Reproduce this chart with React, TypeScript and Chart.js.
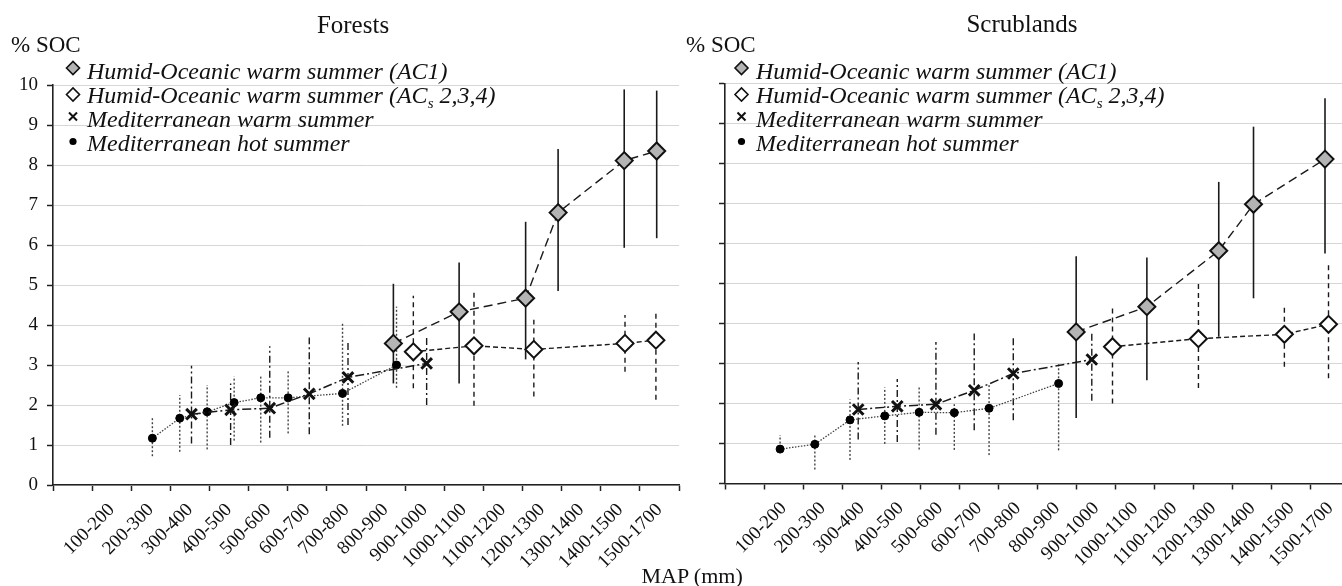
import React, { useEffect, useRef } from "react";
import { Chart, registerables } from "chart.js";

Chart.register(...registerables);

const FONT = '"Liberation Serif", "Times New Roman", serif';

// ---- x axis (MAP classes, mm) ----
const mapClassLabels = [
  "100-200", "200-300", "300-400", "400-500", "500-600", "600-700", "700-800",
  "800-900", "900-1000", "1000-1100", "1100-1200", "1200-1300", "1300-1400",
  "1400-1500", "1500-1700",
];
const mapMin = 0;
const mapMax = 1600;
const mapStep = 100;
const socTicks = [0, 1, 2, 3, 4, 5, 6, 7, 8, 9, 10];

// ---- Forests ----
const forAC1Map = [870, 1038, 1208, 1291, 1460, 1543];
const forAC1Soc = [3.54, 4.33, 4.67, 6.81, 8.11, 8.35];
const forAC1Low = [2.54, 2.54, 3.14, 4.85, 5.93, 6.17];
const forAC1High = [5.03, 5.56, 6.58, 8.4, 9.89, 9.86];

const forACsMap = [921, 1076, 1229, 1462, 1541];
const forACsSoc = [3.33, 3.48, 3.39, 3.54, 3.62];
const forACsLow = [2.42, 1.98, 2.21, 2.83, 2.13];
const forACsHigh = [4.73, 4.88, 4.13, 4.25, 4.33];

const forWarmMap = [354, 454, 554, 655, 754, 955];
const forWarmSoc = [1.77, 1.88, 1.92, 2.28, 2.69, 3.04];
const forWarmLow = [1.04, 1.0, 1.18, 1.27, 1.5, 2.0];
const forWarmHigh = [2.98, 2.54, 3.47, 3.69, 3.58, 3.75];

const forHotMap = [254, 324, 394, 463, 531, 601, 740, 878];
const forHotSoc = [1.17, 1.67, 1.83, 2.06, 2.18, 2.18, 2.29, 3.0];
const forHotLow = [0.72, 0.83, 0.89, 1.11, 1.06, 1.29, 1.48, 2.43];
const forHotHigh = [1.67, 2.25, 2.5, 2.72, 2.72, 2.89, 4.08, 4.46];

// ---- Scrublands ----
const scrAC1Map = [899, 1080, 1264, 1353, 1536];
const scrAC1Soc = [3.79, 4.42, 5.82, 6.98, 8.11];
const scrAC1Low = [1.64, 2.58, 3.67, 4.63, 5.75];
const scrAC1High = [5.68, 5.65, 7.54, 8.92, 9.63];

const scrACsMap = [992, 1212, 1432, 1545];
const scrACsSoc = [3.42, 3.62, 3.73, 3.98];
const scrACsLow = [2.0, 2.39, 2.92, 2.63];
const scrACsHigh = [4.43, 5.07, 4.43, 5.54];

const scrWarmMap = [341, 441, 540, 638, 738, 939];
const scrWarmSoc = [1.85, 1.93, 1.98, 2.33, 2.75, 3.1];
const scrWarmLow = [1.1, 1.04, 1.22, 1.33, 1.58, 2.07];
const scrWarmHigh = [3.04, 2.61, 3.54, 3.75, 3.65, 3.82];

const scrHotMap = [141, 230, 320, 409, 497, 587, 676, 854];
const scrHotSoc = [0.86, 0.98, 1.59, 1.69, 1.78, 1.77, 1.88, 2.5];
const scrHotLow = [0.8, 0.35, 0.59, 0.99, 0.85, 0.84, 0.71, 0.83];
const scrHotHigh = [1.21, 1.22, 2.1, 2.4, 2.42, 1.98, 2.48, 2.98];

const toPoints = (xs: number[], ys: number[]) => xs.map((x, i) => ({ x, y: ys[i] }));

const errorBarPlugin = {
  id: "errorBars",
  beforeDatasetsDraw(chart: any) {
    const { ctx, scales } = chart;
    const xs = scales.x;
    const ys = scales.y;
    chart.data.datasets.forEach((ds: any, i: number) => {
      if (!ds.errLow || !chart.isDatasetVisible(i)) return;
      ctx.save();
      ctx.strokeStyle = ds.errColor;
      ctx.lineWidth = ds.errWidth;
      ctx.setLineDash(ds.errDash);
      ds.data.forEach((p: any, j: number) => {
        const px = xs.getPixelForValue(p.x);
        ctx.beginPath();
        ctx.moveTo(px, ys.getPixelForValue(ds.errLow[j]));
        ctx.lineTo(px, ys.getPixelForValue(ds.errHigh[j]));
        ctx.stroke();
      });
      ctx.restore();
    });
  },
};

type Series = { map: number[]; soc: number[]; low: number[]; high: number[] };

function buildDatasets(ac1: Series, acs: Series, warm: Series, hot: Series) {
  return [
    {
      label: "Humid-Oceanic warm summer (AC1)",
      data: toPoints(ac1.map, ac1.soc),
      errLow: ac1.low, errHigh: ac1.high, errDash: [], errWidth: 1.6, errColor: "#1a1a1a",
      borderColor: "#1a1a1a", borderWidth: 1.4, borderDash: [9, 5],
      pointStyle: "rectRot", pointRadius: 8.5, pointBackgroundColor: "#b4b4b4",
      pointBorderColor: "#111", pointBorderWidth: 2, fill: false, tension: 0,
    },
    {
      label: "Humid-Oceanic warm summer (ACs 2,3,4)",
      data: toPoints(acs.map, acs.soc),
      errLow: acs.low, errHigh: acs.high, errDash: [5, 4], errWidth: 1.4, errColor: "#1a1a1a",
      borderColor: "#1a1a1a", borderWidth: 1.4, borderDash: [5, 3],
      pointStyle: "rectRot", pointRadius: 8.5, pointBackgroundColor: "#ffffff",
      pointBorderColor: "#111", pointBorderWidth: 2, fill: false, tension: 0,
    },
    {
      label: "Mediterranean warm summer",
      data: toPoints(warm.map, warm.soc),
      errLow: warm.low, errHigh: warm.high, errDash: [7, 3, 2, 3], errWidth: 1.4, errColor: "#1a1a1a",
      borderColor: "#1a1a1a", borderWidth: 1.5, borderDash: [9, 3, 2, 3],
      pointStyle: "crossRot", pointRadius: 7.5, pointBackgroundColor: "#111",
      pointBorderColor: "#111", pointBorderWidth: 3, fill: false, tension: 0,
    },
    {
      label: "Mediterranean hot summer",
      data: toPoints(hot.map, hot.soc),
      errLow: hot.low, errHigh: hot.high, errDash: [2, 2], errWidth: 1.4, errColor: "#444",
      borderColor: "#444", borderWidth: 1.3, borderDash: [1.5, 1.5],
      pointStyle: "circle", pointRadius: 4, pointBackgroundColor: "#000",
      pointBorderColor: "#000", pointBorderWidth: 1, fill: false, tension: 0,
    },
  ];
}

type PanelProps = {
  left: number;
  width: number;
  areaTop: number;
  areaBottom: number;
  yAxisWidth: number;
  padRight: number;
  showYLabels: boolean;
  datasets: any[];
};

function Panel(props: PanelProps) {
  const ref = useRef<HTMLCanvasElement | null>(null);
  useEffect(() => {
    if (!ref.current) return;
    const H = 586;
    const tickAxisH = 8;
    const labelAxisH = H - props.areaBottom - tickAxisH;
    const mids = mapClassLabels.map((_, i) => mapMin + mapStep * (i + 1) + mapStep / 2);
    const chart = new Chart(ref.current, {
      type: "line",
      data: { datasets: props.datasets },
      plugins: [errorBarPlugin],
      options: {
        animation: false,
        responsive: false,
        devicePixelRatio: 1,
        layout: { padding: { top: props.areaTop, left: 0, right: props.padRight, bottom: 0 } },
        plugins: { legend: { display: false }, tooltip: { enabled: false }, title: { display: false } },
        scales: {
          x: {
            type: "linear",
            position: "bottom",
            weight: 0,
            min: mapMin,
            max: mapMax,
            afterBuildTicks: (s: any) => {
              const t = [];
              for (let v = mapMin; v <= mapMax; v += mapStep) t.push({ value: v });
              s.ticks = t;
            },
            ticks: { callback: () => "", padding: 0 },
            grid: { drawOnChartArea: false, drawTicks: true, tickLength: 6, tickColor: "#222", tickWidth: 1.5 },
            border: { display: true, color: "#222", width: 1.6 },
            afterFit: (s: any) => { s.height = tickAxisH; },
          },
          xl: {
            type: "linear",
            position: "bottom",
            weight: 1,
            min: mapMin,
            max: mapMax,
            afterBuildTicks: (s: any) => { s.ticks = mids.map((v) => ({ value: v })); },
            ticks: {
              autoSkip: false,
              minRotation: 45,
              maxRotation: 45,
              padding: 6,
              color: "#111",
              font: { family: FONT, size: 19 },
              callback: (_v: any, i: number) => mapClassLabels[i],
            },
            grid: { display: false, drawTicks: false },
            border: { display: false },
            afterFit: (s: any) => { s.height = labelAxisH; },
          },
          y: {
            min: socTicks[0],
            max: socTicks[socTicks.length - 1],
            afterBuildTicks: (s: any) => { s.ticks = socTicks.map((v) => ({ value: v })); },
            ticks: {
              padding: 9,
              color: "#111",
              font: { family: FONT, size: 19 },
              callback: (v: any) => (props.showYLabels ? String(v) : ""),
            },
            grid: { color: "#d6d6d6", lineWidth: 1, tickColor: "#222", tickLength: 6, tickWidth: 1.5 },
            border: { display: true, color: "#222", width: 1.6 },
            afterFit: (s: any) => { s.width = props.yAxisWidth; },
          },
        },
      } as any,
    });
    return () => chart.destroy();
  }, []);
  return (
    <canvas
      ref={ref}
      width={props.width}
      height={586}
      style={{ position: "absolute", left: props.left, top: 0, width: props.width, height: 586 }}
    />
  );
}

const forestDatasets = buildDatasets(
  { map: forAC1Map, soc: forAC1Soc, low: forAC1Low, high: forAC1High },
  { map: forACsMap, soc: forACsSoc, low: forACsLow, high: forACsHigh },
  { map: forWarmMap, soc: forWarmSoc, low: forWarmLow, high: forWarmHigh },
  { map: forHotMap, soc: forHotSoc, low: forHotLow, high: forHotHigh },
);
const scrubDatasets = buildDatasets(
  { map: scrAC1Map, soc: scrAC1Soc, low: scrAC1Low, high: scrAC1High },
  { map: scrACsMap, soc: scrACsSoc, low: scrACsLow, high: scrACsHigh },
  { map: scrWarmMap, soc: scrWarmSoc, low: scrWarmLow, high: scrWarmHigh },
  { map: scrHotMap, soc: scrHotSoc, low: scrHotLow, high: scrHotHigh },
);

function Legend({ mx, tx }: { mx: number; tx: number }) {
  const fs = 24;
  const txt = { fontFamily: FONT, fontStyle: "italic" as const, fontSize: fs, fill: "#111" };
  const d = 6.5;
  const diamond = (cx: number, cy: number) =>
    `${cx - d},${cy} ${cx},${cy - d} ${cx + d},${cy} ${cx},${cy + d}`;
  return (
    <g>
      <polygon points={diamond(mx, 68)} fill="#b4b4b4" stroke="#111" strokeWidth={1.6} />
      <text x={tx} y={79} style={txt}>Humid-Oceanic warm summer (AC1)</text>
      <polygon points={diamond(mx, 94.5)} fill="#fff" stroke="#111" strokeWidth={1.6} />
      <text x={tx} y={103} style={txt}>
        Humid-Oceanic warm summer (AC<tspan dy={5} fontSize={15}>s</tspan>
        <tspan dy={-5}> 2,3,4)</tspan>
      </text>
      <path d={`M${mx - 4},${116.5 - 4} L${mx + 4},${116.5 + 4} M${mx + 4},${116.5 - 4} L${mx - 4},${116.5 + 4}`} stroke="#111" strokeWidth={2} />
      <text x={tx} y={127} style={txt}>Mediterranean warm summer</text>
      <circle cx={mx} cy={141.5} r={3.6} fill="#000" />
      <text x={tx} y={151} style={txt}>Mediterranean hot summer</text>
    </g>
  );
}

export default function App() {
  const title = { fontFamily: FONT, fontSize: 25, fill: "#111" };
  const axisT = { fontFamily: FONT, fontSize: 23, fill: "#111" };
  return (
    <div style={{ position: "fixed", left: 0, top: 0, width: 1342, height: 586, overflow: "hidden", background: "#fff" }}>
      <Panel left={0} width={700} areaTop={85} areaBottom={485} yAxisWidth={53} padRight={21} showYLabels={true} datasets={forestDatasets} />
      <Panel left={700} width={680} areaTop={83.5} areaBottom={483.5} yAxisWidth={25} padRight={30} showYLabels={false} datasets={scrubDatasets} />
      <svg width={1342} height={586} style={{ position: "absolute", left: 0, top: 0, pointerEvents: "none" }}>
        <text x={353} y={33} textAnchor="middle" style={title}>Forests</text>
        <text x={1022} y={32} textAnchor="middle" style={title}>Scrublands</text>
        <text x={11} y={52} style={axisT}>% SOC</text>
        <text x={686} y={52} style={axisT}>% SOC</text>
        <Legend mx={73} tx={87} />
        <Legend mx={741.5} tx={756} />
        <text x={641.5} y={583} style={{ fontFamily: FONT, fontSize: 22, fill: "#111" }}>MAP (mm)</text>
      </svg>
    </div>
  );
}
